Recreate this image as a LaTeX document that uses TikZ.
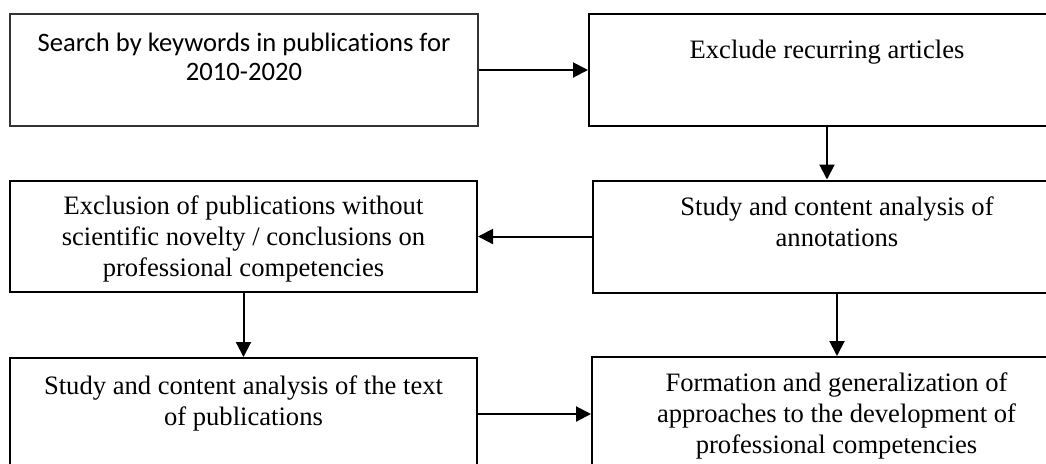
\documentclass[tikz,border=0pt]{standalone}
\usepackage{fontspec}
\setmainfont{Liberation Serif}
\newfontfamily\sansbody[Ligatures=NoCommon]{Carlito}
\usetikzlibrary{arrows.meta,positioning}

\begin{document}
\begin{tikzpicture}[x=0.5pt,y=-0.5pt,line width=1pt,>={Triangle[length=7.5pt,width=7.5pt]},
  box/.style={draw,minimum height=56pt,inner sep=0pt},
  lbl/.style={inner sep=0pt,align=center,font=\fontsize{13.3}{15.5}\selectfont}]
\useasboundingbox (0,0) rectangle (1046,463);
\clip (0,0) rectangle (1046,463);
% ---- boxes (right column and bottom row run past the page edge) ----
\node[box,draw=black!80,line width=0.6pt,minimum width=234pt] (srch) at (244,70) {};
\node[box,minimum width=238pt] (excl) at (827,70) {};
\node[box,minimum width=244pt] (annot) at (837,236.5) {};
\node[box,minimum width=233.5pt,minimum height=55.5pt] (novel) at (243.5,236.5) {};
\node[box,minimum width=233.5pt] (pubtxt) at (243.5,414) {};
\node[box,minimum width=244.5pt,minimum height=57pt] (form) at (836.5,414) {};
% ---- texts ----
\node[lbl,font=\sansbody\fontsize{13.3}{14.5}\selectfont,below=9.3pt of srch.north] (srchlbl)
  {Search by keywords in publications for\\2010-2020};
\node[lbl,below=13pt of excl.north] (excllbl) {Exclude recurring articles};
\node[lbl,below=8pt of annot.north] (annotlbl) {Study and content analysis of\\annotations};
\node[lbl,below=7.5pt of novel.north] (novellbl)
  {Exclusion of publications without\\scientific novelty / conclusions on\\professional competencies};
\node[lbl,below=9pt of pubtxt.north] (pubtxtlbl) {Study and content analysis of the text\\of publications};
\node[lbl,below=8pt of form.north] (formlbl)
  {Formation and generalization of\\approaches to the development of\\professional competencies};
% ---- arrows ----
\draw[->] (srch) -- (excl);
\draw[->] (excl.south) -- (excl.south |- annot.north);
\draw[->] (annot.west) -- (novel.east);
\draw[->] (novel.south) -- (novel.south |- pubtxt.north);
\draw[->] (annot.south) -- (annot.south |- form.north);
\draw[->] (pubtxt) -- (form);
\end{tikzpicture}
\end{document}
